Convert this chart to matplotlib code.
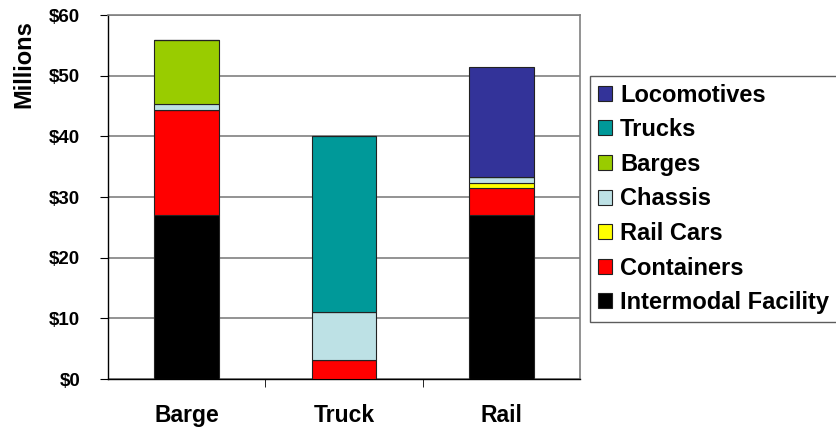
import numpy as np
import matplotlib.pyplot as plt
from matplotlib.ticker import FuncFormatter

plt.rcParams['font.family'] = ['Liberation Sans', 'DejaVu Sans']
plt.rcParams['font.weight'] = 'bold'

modes = ['Barge', 'Truck', 'Rail']

# millions of dollars, per component, for each mode
intermodal = [27.0, 0.0, 27.0]
containers = [17.3, 3.1, 4.5]
rail_cars = [0.0, 0.0, 0.8]
chassis = [1.0, 7.9, 1.0]
barges = [10.6, 0.0, 0.0]
trucks = [0.0, 29.0, 0.0]
locomotives = [0.0, 0.0, 18.1]

series = [
    ('Intermodal Facility', intermodal, '#000000'),
    ('Containers', containers, '#FF0000'),
    ('Rail Cars', rail_cars, '#FFFF00'),
    ('Chassis', chassis, '#BDE1E5'),
    ('Barges', barges, '#99CC00'),
    ('Trucks', trucks, '#009999'),
    ('Locomotives', locomotives, '#333399'),
]

fig = plt.figure(figsize=(8.36, 4.30), dpi=100)
ax = fig.add_axes([0.129, 0.1186, 0.565, 0.8465])

x = np.arange(len(modes))
bottom = np.zeros(len(modes))
for name, vals, color in series:
    vals = np.array(vals)
    ax.bar(x, vals, 0.41, bottom=bottom, color=color, edgecolor='#222222',
           linewidth=0.8, label=name, zorder=3)
    bottom += vals

ax.set_xlim(-0.5, 2.5)
ax.set_ylim(0, 60)
ax.set_yticks(range(0, 61, 10))
ax.yaxis.set_major_formatter(FuncFormatter(lambda v, p: '$%d' % v))
ax.set_xticks(x)
ax.set_xticklabels(modes, fontsize=16.5, fontweight='bold')
ax.set_xticks([0.5, 1.5], minor=True)
ax.tick_params(axis='x', which='major', length=0, pad=18)
ax.tick_params(axis='x', which='minor', length=6, direction='out', color='black')
ax.tick_params(axis='y', length=6, direction='out', labelsize=13.5, pad=14)
for lbl in ax.get_yticklabels():
    lbl.set_fontweight('bold')

ax.grid(axis='y', color='#808080', linewidth=1.2, zorder=0)
ax.set_axisbelow(True)
for s in ['top', 'right']:
    ax.spines[s].set_color('#808080')
    ax.spines[s].set_linewidth(1.2)
for s in ['left', 'bottom']:
    ax.spines[s].set_color('black')
    ax.spines[s].set_linewidth(1.0)

ax.set_ylabel('Millions', fontsize=17, fontweight='bold')
ax.yaxis.set_label_coords(-0.153, 0.865)

handles, labels = ax.get_legend_handles_labels()
leg = fig.legend(handles[::-1], labels[::-1], loc='upper left',
                 bbox_to_anchor=(0.706, 0.823), borderaxespad=0,
                 prop={'size': 17, 'weight': 'bold'}, frameon=True,
                 fancybox=False, edgecolor='#333333', handlelength=0.6,
                 handleheight=0.6, handletextpad=0.34, labelspacing=0.49,
                 borderpad=0.32)
leg.get_frame().set_linewidth(1.0)

fig.savefig('out.png', dpi=100)
